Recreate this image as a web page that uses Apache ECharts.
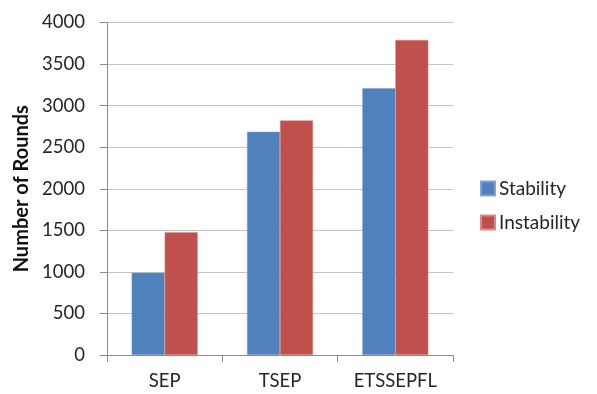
<!DOCTYPE html>
<html><head><meta charset="utf-8">
<script src="https://cdn.jsdelivr.net/npm/echarts@6/dist/echarts.min.js"></script>
<style>html,body{margin:0;padding:0;background:#fff}#c{width:597px;height:394px}</style>
</head><body><div id="c"></div>
<script>
const categories = ["SEP", "TSEP", "ETSSEPFL"];
const stability = [990, 2685, 3210];
const instability = [1478, 2822, 3790];
const yTicks = { min: 0, max: 4000, interval: 500 };

const font = "Lato, 'Open Sans', sans-serif";
const chart = echarts.init(document.getElementById('c'), null, { renderer: 'canvas' });
chart.setOption({
  animation: false,
  textStyle: { fontFamily: font },
  grid: { left: 107, top: 22.5, width: 346, height: 332.5, containLabel: false },
  legend: {
    orient: 'vertical', left: 475, top: 174, itemWidth: 14, itemHeight: 14, itemGap: 15,
    icon: 'rect',
    textStyle: { fontFamily: font, fontSize: 19, color: '#262626', padding: [0, 0, 0, -1] },
    data: ['Stability', 'Instability']
  },
  xAxis: {
    type: 'category', data: categories,
    axisLine: { lineStyle: { color: '#8c8c8c', width: 1 } },
    axisTick: { show: true, length: 7, lineStyle: { color: '#8c8c8c' } },
    axisLabel: { fontFamily: font, fontSize: 18.5, color: '#262626', margin: 17 }
  },
  yAxis: {
    type: 'value', min: yTicks.min, max: yTicks.max, interval: yTicks.interval,
    name: 'Number of Rounds', nameLocation: 'middle', nameGap: 71,
    nameTextStyle: { fontFamily: font, fontSize: 20, fontWeight: 'bold', color: '#111' },
    axisLine: { show: true, lineStyle: { color: '#8c8c8c' } },
    axisTick: { show: true, length: 7, lineStyle: { color: '#8c8c8c' } },
    axisLabel: { fontFamily: font, fontSize: 18.5, color: '#262626', margin: 22, formatter: v => String(v) },
    splitLine: { lineStyle: { color: '#c4c4c4', width: 1 } }
  },
  series: [
    { name: 'Stability', type: 'bar', data: stability, barWidth: 33, barGap: '0%',
      itemStyle: { color: '#4F81BD', borderColor: '#7fa3d0', borderWidth: 0.5 } },
    { name: 'Instability', type: 'bar', data: instability, barWidth: 33, barGap: '0%',
      itemStyle: { color: '#C0504D', borderColor: '#d88a88', borderWidth: 0.5 } }
  ]
});
</script></body></html>
